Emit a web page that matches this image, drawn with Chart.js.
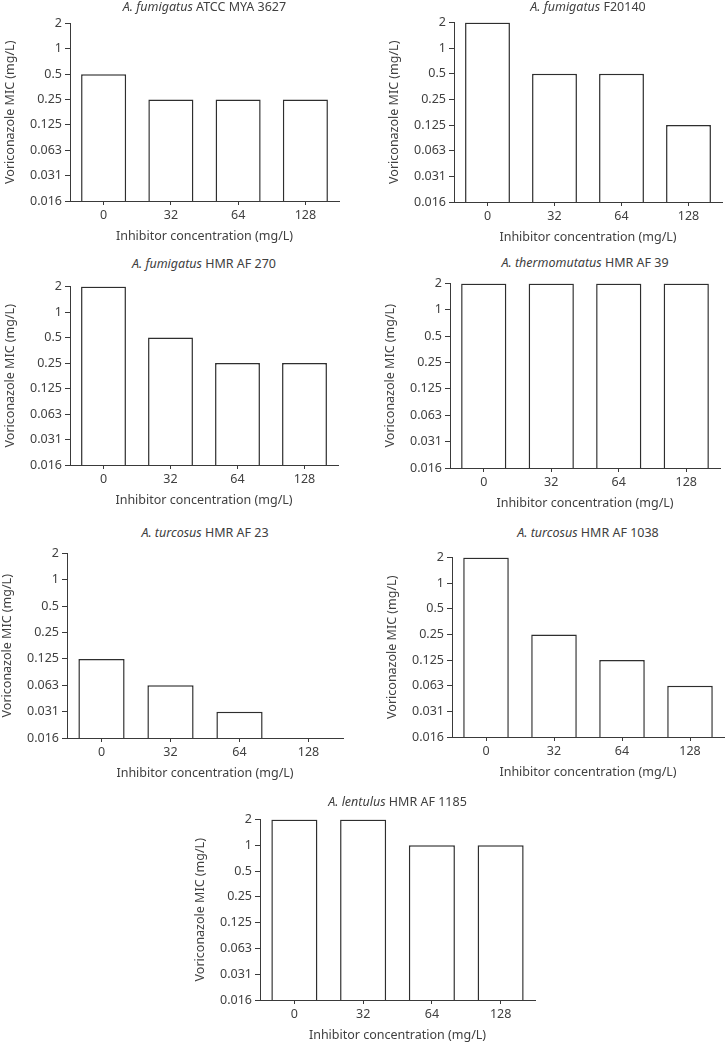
<!DOCTYPE html>
<html>
<head>
<meta charset="utf-8">
<script src="https://cdn.jsdelivr.net/npm/chart.js@4"></script>
<style>
  html, body { margin: 0; padding: 0; background: #fff; }
  body { width: 728px; height: 1042px; position: relative; overflow: hidden; font-family: "Noto Sans", sans-serif; }
  .ttl { position: absolute; text-align: center; font-size: 12.5px; line-height: 15px; color: #404040; white-space: nowrap; }
</style>
</head>
<body>
<script>
// Data (MIC in mg/L, log2 axis)
const concentrations = ['0', '32', '64', '128'];
const yTickValues = [0.015625, 0.03125, 0.0625, 0.125, 0.25, 0.5, 1, 2];
const yTickLabels = ['0.016', '0.031', '0.063', '0.125', '0.25', '0.5', '1', '2'];

const fumigatusMya3627 = [0.5, 0.25, 0.25, 0.25];
const fumigatusF20140 = [2, 0.5, 0.5, 0.125];
const fumigatusAf270 = [2, 0.5, 0.25, 0.25];
const thermomutatusAf39 = [2, 2, 2, 2];
const turcosusAf23 = [0.125, 0.0625, 0.03125, 0.015625];
const turcosusAf1038 = [2, 0.25, 0.125, 0.0625];
const lentulusAf1185 = [2, 2, 1, 1];

const FONT = '"Noto Sans", sans-serif';
const TEXT = '#404040';
const AXIS = '#3a3a3a';
const BAR_EDGE = '#2e2e2e';

const Y_AXIS_W = 67;
const X_AXIS_H = 44;
const PAD_L = 3;
const PAD_T = 10;
const PAD_R = 2;

// plot area [left, top, right, bottom] in page pixels, and title centre y
const panels = [
    { species: 'A. fumigatus', strain: 'ATCC MYA 3627', values: fumigatusMya3627, plot: [70, 23, 339, 201], titleY: 7 },
    { species: 'A. fumigatus', strain: 'F20140', values: fumigatusF20140, plot: [454, 22, 722, 202], titleY: 7 },
    { species: 'A. fumigatus', strain: 'HMR AF 270', values: fumigatusAf270, plot: [70, 286, 338, 465], titleY: 264 },
    { species: 'A. thermomutatus', strain: 'HMR AF 39', values: thermomutatusAf39, plot: [450, 283, 720, 468], titleY: 263 },
    { species: 'A. turcosus', strain: 'HMR AF 23', values: turcosusAf23, plot: [67, 553, 343, 738], titleY: 533 },
    { species: 'A. turcosus', strain: 'HMR AF 1038', values: turcosusAf1038, plot: [452, 557, 724, 737], titleY: 533 },
    { species: 'A. lentulus', strain: 'HMR AF 1185', values: lentulusAf1185, plot: [260, 819, 535, 1000], titleY: 802 }
];

function buildPanel(p) {
    const [x0, y0, x1, y1] = p.plot;
    const left = x0 - Y_AXIS_W - PAD_L;
    const top = y0 - PAD_T;
    const w = (x1 - x0) + Y_AXIS_W + PAD_L + PAD_R;
    const h = (y1 - y0) + PAD_T + X_AXIS_H;

    const canvas = document.createElement('canvas');
    canvas.width = w;
    canvas.height = h;
    canvas.style.cssText = `position:absolute;left:${left}px;top:${top}px;width:${w}px;height:${h}px`;
    document.body.appendChild(canvas);

    const t = document.createElement('div');
    t.className = 'ttl';
    t.style.left = x0 + 'px';
    t.style.width = (x1 - x0) + 'px';
    t.style.top = (p.titleY - 8) + 'px';
    t.innerHTML = '<i>' + p.species + '</i> ' + p.strain;
    document.body.appendChild(t);

    new Chart(canvas, {
        type: 'bar',
        data: {
            labels: concentrations,
            datasets: [{
                data: p.values,
                backgroundColor: '#ffffff',
                borderColor: BAR_EDGE,
                borderWidth: 1.5,
                borderSkipped: 'bottom',
                barPercentage: 0.67,
                categoryPercentage: 1
            }]
        },
        options: {
            responsive: false,
            animation: false,
            layout: { padding: { left: PAD_L, top: PAD_T, right: PAD_R, bottom: 0 } },
            plugins: {
                legend: { display: false },
                tooltip: { enabled: false }
            },
            scales: {
                x: {
                    grid: { offset: false, drawOnChartArea: false, drawTicks: true, tickLength: 4, color: AXIS },
                    border: { color: AXIS, width: 1 },
                    ticks: { color: TEXT, font: { size: 12.5, family: FONT }, padding: 3, maxRotation: 0 },
                    title: {
                        display: true,
                        text: 'Inhibitor concentration (mg/L)',
                        color: TEXT,
                        font: { size: 12.5, family: FONT },
                        padding: { top: 0, bottom: 1 }
                    },
                    afterFit: function(scale) { scale.height = X_AXIS_H; }
                },
                y: {
                    type: 'logarithmic',
                    min: yTickValues[0],
                    max: yTickValues[yTickValues.length - 1],
                    grid: { drawOnChartArea: false, drawTicks: true, tickLength: 5, color: AXIS },
                    border: { color: AXIS, width: 1 },
                    ticks: {
                        autoSkip: false,
                        color: TEXT,
                        font: { size: 12.5, family: FONT },
                        padding: 3,
                        callback: function(value) {
                            const i = yTickValues.indexOf(value);
                            return i < 0 ? '' : yTickLabels[i];
                        }
                    },
                    title: {
                        display: true,
                        text: 'Voriconazole MIC (mg/L)',
                        color: TEXT,
                        font: { size: 12.5, family: FONT },
                        padding: { top: 0, bottom: 0 }
                    },
                    afterBuildTicks: function(scale) {
                        scale.ticks = yTickValues.map(v => ({ value: v }));
                    },
                    afterFit: function(scale) { scale.width = Y_AXIS_W; }
                }
            }
        }
    });
}

panels.forEach(buildPanel);
</script>
</body>
</html>
